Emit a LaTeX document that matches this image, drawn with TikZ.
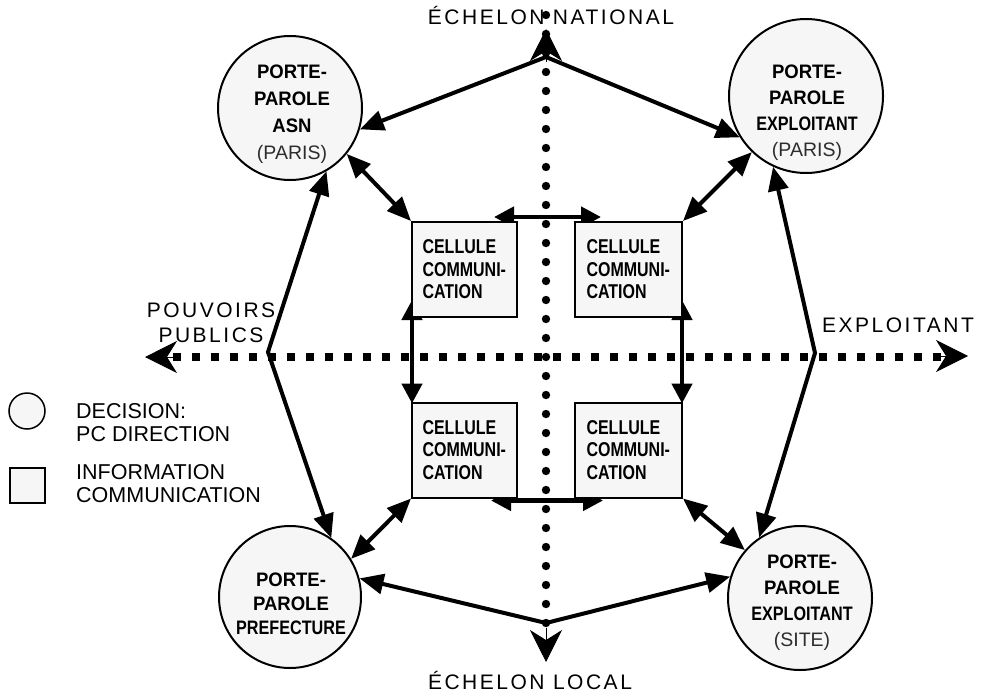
\documentclass[tikz,border=0pt]{standalone}
\usepackage{fontspec}
\setmainfont{Liberation Sans}
\newfontfamily\narrowfont[FakeStretch=0.8]{Liberation Sans}
\newfontfamily\roundfont[FakeStretch=0.95]{Liberation Sans}
\newfontfamily\tightfont[FakeStretch=0.83]{Liberation Sans}
\newfontfamily\spacedfont[LetterSpace=12]{Liberation Sans}
\usetikzlibrary{arrows.meta,backgrounds}
\definecolor{cellfill}{RGB}{246,246,246}
\definecolor{subtext}{RGB}{45,45,45}

\begin{document}
\begin{tikzpicture}[x=1pt,y=-1pt,
  actor/.style={circle,draw,line width=2pt,fill=cellfill,inner sep=0pt},
  cell/.style={rectangle,draw,line width=2pt,fill=cellfill,
    minimum width=105pt,minimum height=95pt,text width=84pt,align=left,
    inner xsep=10.5pt,inner ysep=0pt,
    font=\narrowfont\bfseries\fontsize{20}{22.5}\selectfont},
  actortext/.style={align=center,inner sep=0pt,
    font=\roundfont\bfseries\fontsize{19.5}{27}\selectfont},
  legendtext/.style={align=left,inner sep=0pt,anchor=west,
    font=\fontsize{21.5}{23}\selectfont},
  axislabel/.style={inner sep=0pt,font=\spacedfont\fontsize{21}{25}\selectfont},
  link/.style={line width=4pt,line join=miter,
    {Triangle[length=24pt,width=20pt]}-{Triangle[length=24pt,width=20pt]}},
  cross/.style={line width=4.5pt,
    {Triangle[length=20pt,width=20pt]}-{Triangle[length=20pt,width=20pt]}},
  axistip/.style={line width=1pt,-{Stealth[length=32pt,width=32pt,inset=10pt]}},
]
\begin{scope}[on background layer]
  \fill[white] (0,0) rectangle (981,693);
\end{scope}
\useasboundingbox (0,0) rectangle (981,693);

% axis end points and octagon corners
\coordinate (tipN) at (546,29);
\coordinate (tipNb) at (546,62);
\coordinate (tipS) at (546,662);
\coordinate (tipSb) at (546,628);
\coordinate (hleft) at (154,357);
\coordinate (hright) at (941,357);
\coordinate (tipW) at (145,357);
\coordinate (tipWb) at (178,357);
\coordinate (tipE) at (968,356);
\coordinate (tipEb) at (935,356);
\coordinate (apexT) at (546,57);
\coordinate (apexB) at (546,623);
\coordinate (vertL) at (268,352);
\coordinate (vertR) at (815,353);

% axes: dotted vertical, dashed horizontal
\foreach \k in {0,...,32}
  \fill (546,{15+19*\k}) circle[radius=4.2pt];
\draw[line width=8pt,dash pattern=on 8pt off 11pt] (hleft) -- (hright);
\draw[axistip] (tipNb) -- (tipN);
\draw[axistip] (tipSb) -- (tipS);
\draw[axistip] (tipWb) -- (tipW);
\draw[axistip] (tipEb) -- (tipE);

% decision points
\node[actor,minimum size=144pt] (asn) at (290,108) {};
\node[actor,minimum size=154pt] (expp) at (806,96) {};
\node[actor,minimum size=142pt] (pref) at (290,597) {};
\node[actor,minimum size=144pt] (exps) at (800,598) {};

\node[actortext] (asn-t) at (292,114.5)
  {PORTE-\\PAROLE\\ASN\\{\normalfont\fontsize{19.5}{27}\selectfont\color{subtext}(PARIS)}};
\node[actortext,font=\roundfont\bfseries\fontsize{19.5}{26}\selectfont] (expp-t) at (807,113)
  {PORTE-\\PAROLE\\{\tightfont\bfseries EXPLOITANT}\\{\normalfont\fontsize{19.5}{26}\selectfont\color{subtext}(PARIS)}};
\node[actortext,font=\roundfont\bfseries\fontsize{19.5}{24}\selectfont] (pref-t) at (291,604)
  {PORTE-\\PAROLE\\{\tightfont\bfseries PREFECTURE}};
\node[actortext,font=\roundfont\bfseries\fontsize{19.5}{26}\selectfont] (exps-t) at (802,603)
  {PORTE-\\PAROLE\\{\tightfont\bfseries EXPLOITANT}\\{\normalfont\fontsize{19.5}{26}\selectfont\color{subtext}(SITE)}};

% communication cells
\node[cell] (c1) at (464.5,269.5) {CELLULE\\COMMUNI-\\CATION};
\node[cell,minimum width=107pt,inner xsep=11.5pt] (c2) at (628.5,269.5) {CELLULE\\COMMUNI-\\CATION};
\node[cell] (c3) at (464.5,450) {CELLULE\\COMMUNI-\\CATION};
\node[cell,minimum width=107pt,inner xsep=11.5pt] (c4) at (628.5,450) {CELLULE\\COMMUNI-\\CATION};

% links between cells, partly covered by the cells
\begin{scope}[on background layer]
  \draw[cross] ([xshift=-24pt,yshift=4pt]c1.north east) -- ([xshift=27pt,yshift=4pt]c2.north west);
  \draw[cross] ([xshift=-27pt,yshift=-2pt]c3.south east) -- ([xshift=29pt,yshift=-2pt]c4.south west);
  \draw[cross] ([xshift=1pt,yshift=18pt]c1.south west) -- ([xshift=1pt,yshift=-2pt]c3.north west);
  \draw[cross] ([xshift=-1pt,yshift=18pt]c2.south east) -- ([xshift=-1pt,yshift=-2pt]c4.north east);
\end{scope}

% octagon between spokespersons
\draw[link] (asn.-17.5) -- (apexT) -- (expp.-148);
\draw[link] (asn.-60) -- (vertL) -- (pref.55.5);
\draw[link] (expp.-115.3) -- (vertR) -- (exps.124.3);
\draw[link] (pref.15) -- (apexB) -- (exps.163.7);

% spokesperson to cell
\draw[link] (asn.-39.5) -- (c1.north west);
\draw[link] (expp.-134.5) -- (c2.north east);
\draw[link] (pref.32.5) -- (c3.south west);
\draw[link] (exps.139) -- (c4.south east);

% axis labels
\node[axislabel,anchor=base] (nat) at (551,24.5) {ÉCHELON NATIONAL};
\node[axislabel,anchor=base] (loc) at (530,689.5) {ÉCHELON LOCAL};
\node[axislabel,align=center] (pub) at (211,322.5) {POUVOIRS\\PUBLICS};
\node[axislabel,anchor=base] (expl) at (898,332.5) {EXPLOITANT};

% legend
\node[actor,minimum size=36pt,line width=1.5pt] (leg-c) at (27,411) {};
\node[draw,line width=1.5pt,fill=cellfill,minimum size=35pt,inner sep=0pt] (leg-b) at (27.5,485.5) {};
\node[legendtext] (leg-ct) at (76,422.5) {DECISION:\\PC DIRECTION};
\node[legendtext] (leg-bt) at (76,483.5) {INFORMATION\\COMMUNICATION};
\end{tikzpicture}
\end{document}
